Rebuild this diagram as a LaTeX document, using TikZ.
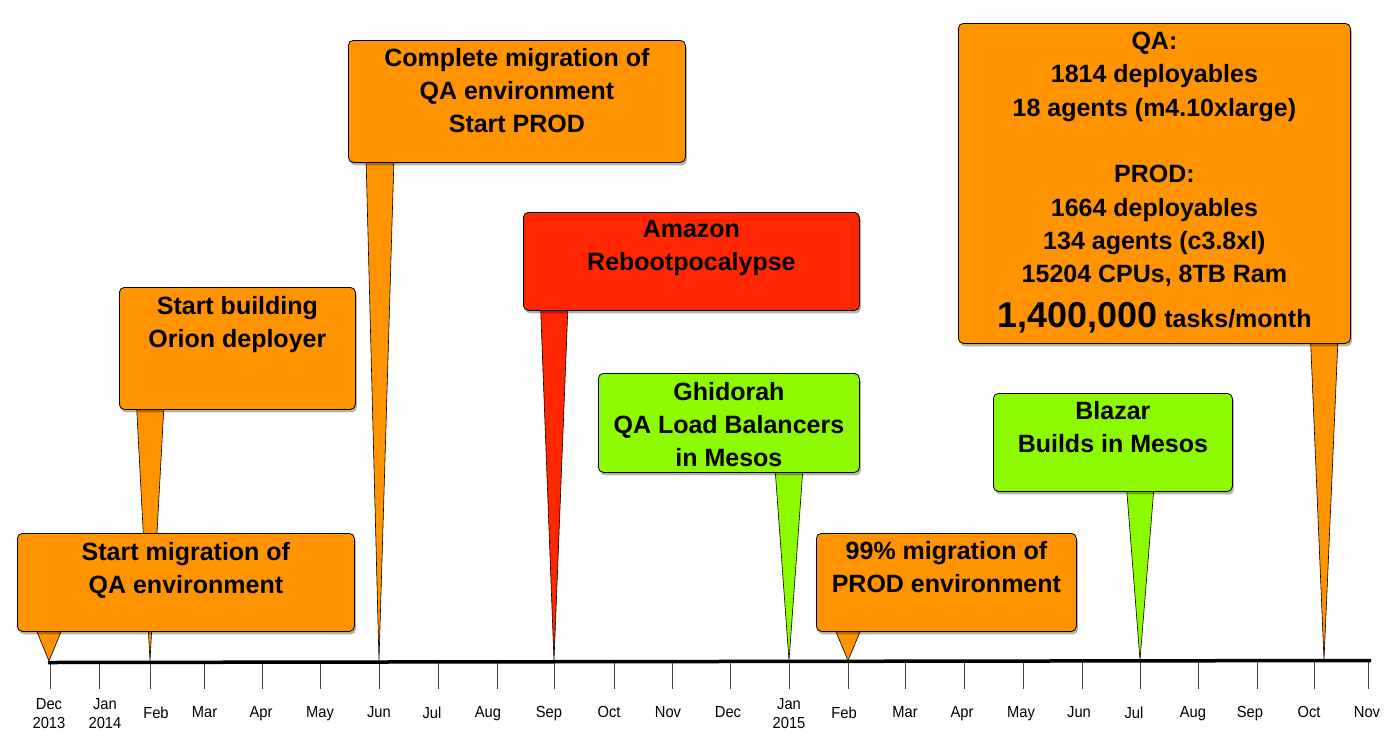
\documentclass[tikz,border=0pt]{standalone}
\usepackage{fontspec}
\setmainfont{Liberation Sans}
\newfontfamily\labfont[FakeStretch=0.92]{Liberation Sans}
\usetikzlibrary{shadows,calc}
\definecolor{korange}{RGB}{255,147,0}
\definecolor{kred}{RGB}{255,38,0}
\definecolor{kgreen}{RGB}{142,250,0}
\definecolor{tickgray}{RGB}{70,70,70}
\begin{document}
\begin{tikzpicture}[x=1pt,y=-1pt,
  callout/.style={draw=black, line width=0.8pt, rounded corners=5pt, inner sep=0pt,
    anchor=north west,
    drop shadow={shadow xshift=1.5pt, shadow yshift=-3pt, opacity=0.3, fill=black}},
  boxtext/.style={font=\bfseries\fontsize{25}{33.3}\selectfont, align=center, inner sep=0pt, anchor=north},
  ptr/.style={draw=black, line width=0.6pt, line join=miter},
  tick/.style={draw=tickgray, line width=0.9pt},
  axis/.style={draw=black, line width=3.5pt},
  monthlab/.style={font=\labfont\fontsize{16}{19}\selectfont, align=center, inner sep=0pt, anchor=north}
]
\useasboundingbox (0,0) rectangle (1394,740);

% ticks
\foreach \tx in {50,99,150,204,262,320,379,438,497,554,614,672,730,789,848,905,964,1023,1082,1140,1198,1257,1314,1368}
  \draw[tick] (\tx,661) -- (\tx,689);

% month labels
\foreach \lx/\ly/\lab [count=\i] in {49/698.5/{Dec\\2013},105/698.5/{Jan\\2014},156/706.5/Feb,204.5/706.5/Mar,261/706.5/Apr,320/706.5/May,379/706.5/Jun,432/706.5/Jul,488/706.5/Aug,549/706.5/Sep,609/706.5/Oct,668/706.5/Nov,728/706.5/Dec,789/698.5/{Jan\\2015},844/706.5/Feb,905/706.5/Mar,962/706.5/Apr,1021/706.5/May,1079/706.5/Jun,1134/706.5/Jul,1193/706.5/Aug,1250/706.5/Sep,1309/706.5/Oct,1367/706.5/Nov}
  \node[monthlab] (m\i) at (\lx,\ly) {\lab};

% axis
\coordinate (axL) at (48,662.5);
\coordinate (axR) at (1371,660.5);
\draw[axis] (axL) -- (axR);

% pointer tips
\coordinate (tip1) at (49,661);
\coordinate (tip2) at (150,661);
\coordinate (tip3) at (379,661);
\coordinate (tip4) at (554,661);
\coordinate (tip5) at (789,660.5);
\coordinate (tip6) at (848,660.5);
\coordinate (tip7) at (1140,660);
\coordinate (tip8) at (1324,660);

% pointers
\draw[ptr, fill=korange] (35,627) -- (tip1) -- (63,627) -- cycle;
\draw[ptr, fill=korange] (136.5,405) -- (tip2) -- (164,405) -- cycle;
\draw[ptr, fill=korange] (366,157) -- (tip3) -- (394,157) -- cycle;
\draw[ptr, fill=kred] (540.5,305) -- (tip4) -- (568,305) -- cycle;
\draw[ptr, fill=kgreen] (775,468) -- (tip5) -- (803,468) -- cycle;
\draw[ptr, fill=korange] (834,627) -- (tip6) -- (862,627) -- cycle;
\draw[ptr, fill=kgreen] (1126.5,487) -- (tip7) -- (1154,487) -- cycle;
\draw[ptr, fill=korange] (1310.5,339) -- (tip8) -- (1338,339) -- cycle;

% boxes
\node[callout, fill=korange, minimum width=337pt, minimum height=98pt] (b1) at (17,533) {};
\node[callout, fill=korange, minimum width=236pt, minimum height=122pt] (b2) at (119,287) {};
\node[callout, fill=korange, minimum width=337pt, minimum height=122pt] (b3) at (348,40) {};
\node[callout, fill=kred, minimum width=336pt, minimum height=98pt] (b4) at (523,212) {};
\node[callout, fill=kgreen, minimum width=261pt, minimum height=99pt] (b5) at (598,373) {};
\node[callout, fill=korange, minimum width=260pt, minimum height=98pt] (b6) at (816,533) {};
\node[callout, fill=kgreen, minimum width=239pt, minimum height=98pt] (b7) at (993,393) {};
\node[callout, fill=korange, minimum width=392pt, minimum height=320pt] (b8) at (958,23) {};

% texts
\node[boxtext] (t1) at ([yshift=-9pt]b1.north) {Start migration of\\QA environment};
\node[boxtext] (t2) at ([yshift=-9pt]b2.north) {Start building\\Orion deployer};
\node[boxtext] (t3) at ([yshift=-8pt]b3.north) {Complete migration of\\QA environment\\Start PROD};
\node[boxtext] (t4) at ([yshift=-8pt]b4.north) {Amazon\\Rebootpocalypse};
\node[boxtext] (t5) at ([yshift=-9pt]b5.north) {Ghidorah\\QA Load Balancers\\in Mesos};
\node[boxtext] (t6) at ([yshift=-8pt]b6.north) {99\% migration of\\PROD environment};
\node[boxtext] (t7) at ([yshift=-8pt]b7.north) {Blazar\\Builds in Mesos};
\node[boxtext] (t8) at ([yshift=-9pt]b8.north) {QA:\\1814 deployables\\18 agents (m4.10xlarge)\\[33.3pt]PROD:\\1664 deployables\\134 agents (c3.8xl)\\15204 CPUs, 8TB Ram\\[11.7pt]{\fontsize{36}{36}\selectfont 1,400,000} tasks/month};
\end{tikzpicture}
\end{document}
